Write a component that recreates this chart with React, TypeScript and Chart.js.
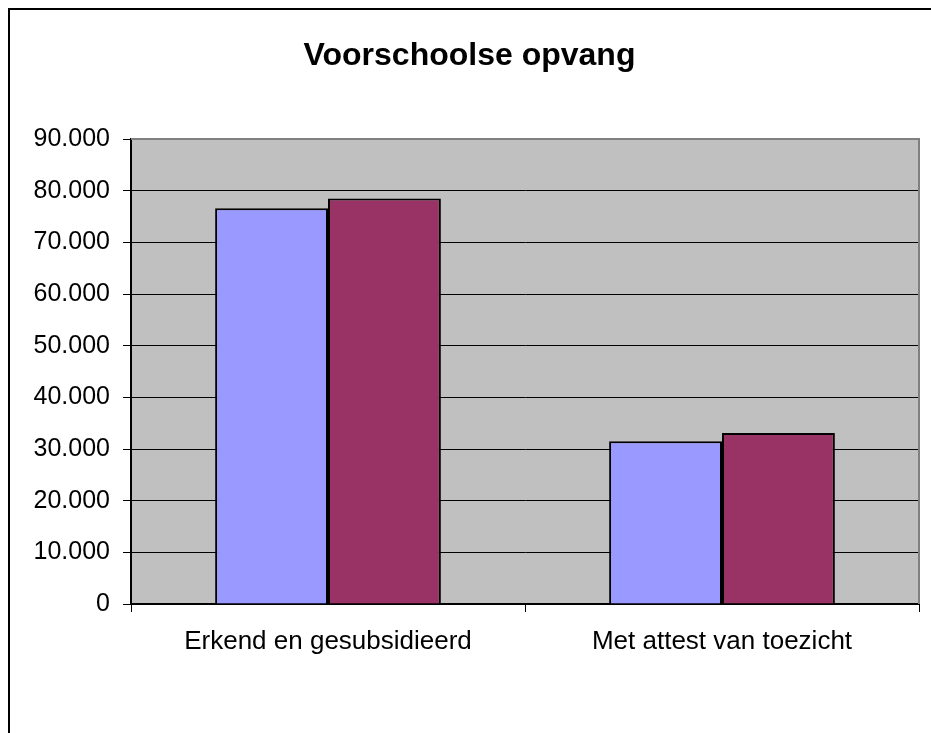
import React, { useEffect, useRef } from "react";
import { Chart, registerables } from "chart.js";

Chart.register(...registerables);

const title = "Voorschoolse opvang";
const categories = ["Erkend en gesubsidieerd", "Met attest van toezicht"];
const seriesNames = ["Reeks1", "Reeks2"];
const series1 = [76600, 31500];
const series2 = [78500, 33100];
const yMin = 0;
const yMax = 90000;
const yStep = 10000;

const fmt = (v: number) => String(v).replace(/\B(?=(\d{3})+(?!\d))/g, ".");

const FONT = "'Liberation Sans', Arial, sans-serif";

const plotBg = {
  id: "plotBg",
  beforeDraw(chart: any) {
    const { ctx, chartArea: a } = chart;
    ctx.save();
    ctx.fillStyle = "#C0C0C0";
    ctx.fillRect(a.left, a.top, a.right - a.left, a.bottom - a.top);
    ctx.restore();
  },
  afterDatasetsDraw(chart: any) {
    const { ctx, chartArea: a } = chart;
    ctx.save();
    ctx.strokeStyle = "#808080";
    ctx.lineWidth = 2;
    ctx.beginPath();
    ctx.moveTo(a.left, a.top);
    ctx.lineTo(a.right, a.top);
    ctx.lineTo(a.right, a.bottom);
    ctx.stroke();
    ctx.restore();
  },
};

export default function App() {
  const ref = useRef<HTMLCanvasElement | null>(null);
  useEffect(() => {
    document.body.style.margin = "0";
    document.body.style.overflow = "hidden";
    if (!ref.current) return;
    const chart = new Chart(ref.current, {
      type: "bar",
      data: {
        labels: categories,
        datasets: [
          {
            label: seriesNames[0],
            data: series1,
            backgroundColor: "#9999FF",
            borderColor: "#000000",
            borderWidth: 2,
            categoryPercentage: 0.573,
            barPercentage: 1,
          },
          {
            label: seriesNames[1],
            data: series2,
            backgroundColor: "#993366",
            borderColor: "#000000",
            borderWidth: 2,
            categoryPercentage: 0.573,
            barPercentage: 1,
          },
        ],
      },
      options: {
        animation: false,
        responsive: false,
        maintainAspectRatio: false,
        layout: { padding: { left: 10, right: 12, top: 0, bottom: 0 } },
        plugins: {
          legend: { display: false },
          tooltip: { enabled: false },
          title: {
            display: true,
            text: title,
            color: "#000",
            font: { family: FONT, size: 32, weight: "bold" },
            padding: { top: 27, bottom: 63.6 },
          },
        },
        scales: {
          x: {
            offset: true,
            grid: {
              offset: true,
              drawOnChartArea: false,
              drawTicks: true,
              tickLength: 8,
              tickColor: "#000",
              tickWidth: 1,
            },
            border: { display: true, color: "#000", width: 2 },
            ticks: {
              color: "#000",
              font: { family: FONT, size: 26 },
              padding: 14,
              maxRotation: 0,
            },
            afterFit(scale: any) {
              scale.height = 129;
            },
          },
          y: {
            min: yMin,
            max: yMax,
            grid: {
              color: "#000",
              lineWidth: 1,
              drawTicks: true,
              tickLength: 8,
              tickColor: "#000",
            },
            border: { display: true, color: "#000", width: 2 },
            ticks: {
              stepSize: yStep,
              color: "#000",
              font: { family: FONT, size: 25 },
              padding: 13,
              callback: (v: any) => fmt(Number(v)),
            },
            afterFit(scale: any) {
              scale.width = 111;
            },
          },
        },
      },
      plugins: [plotBg],
    });
    return () => chart.destroy();
  }, []);

  return (
    <div
      style={{
        marginLeft: 8,
        marginTop: 8,
        width: 923,
        height: 725,
        boxSizing: "border-box",
        borderLeft: "2px solid #000",
        borderTop: "2px solid #000",
        overflow: "hidden",
        background: "#fff",
      }}
    >
      <canvas ref={ref} width={921} height={723} style={{ display: "block" }} />
    </div>
  );
}
